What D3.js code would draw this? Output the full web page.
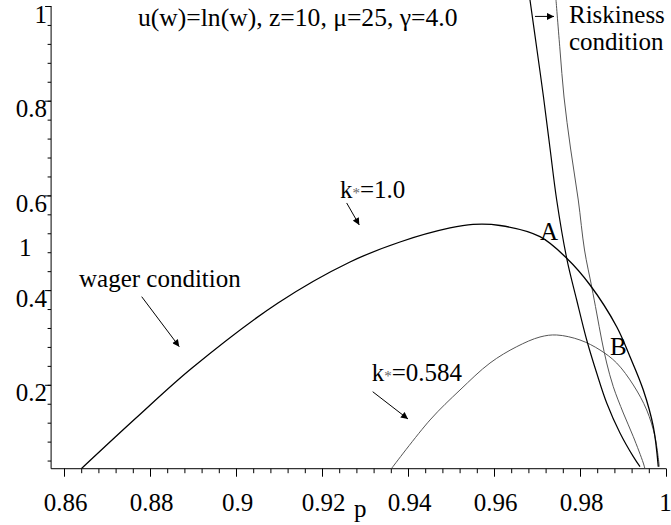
<!DOCTYPE html>
<html>
<head>
<meta charset="utf-8">
<script src="https://cdn.jsdelivr.net/npm/d3@7"></script>
<style>
  html, body { margin: 0; padding: 0; background: #fff; }
  svg { display: block; }
  svg text { font-family: "Liberation Serif", serif; fill: #000; }
</style>
</head>
<body>
<svg id="chart" width="671" height="525"></svg>
<script>
// Wager condition, k* = 1.0
const wager1P = [0.86402, 0.87674, 0.88977, 0.90977, 0.92651, 0.93814, 0.94977, 0.95512,
                 0.96140, 0.97070, 0.97691, 0.98233, 0.98853, 0.99163, 0.99472, 0.99705, 0.99821];
const wager1V = [0.0228, 0.1298, 0.2355, 0.3728, 0.4594, 0.5016, 0.5312, 0.5386,
                 0.5364, 0.5128, 0.4672, 0.4108, 0.3227, 0.2593, 0.1890, 0.1115, 0.0270];

// Wager condition, k* = 0.584
const wager2P = [0.93621, 0.94512, 0.95209, 0.95907, 0.96528, 0.97070, 0.97458, 0.98000,
                 0.98465, 0.98853, 0.99240, 0.99551, 0.99744, 0.99844];
const wager2V = [0.0237, 0.1257, 0.1890, 0.2460, 0.2805, 0.3010, 0.3052, 0.2946,
                 0.2735, 0.2460, 0.1996, 0.1468, 0.0904, 0.0271];

// Riskiness condition, k* = 1.0
const risk1P = [0.96837, 0.97000, 0.97151, 0.97302, 0.97458, 0.97691, 0.97923, 0.98156,
                0.98388, 0.98621, 0.98930, 0.99240, 0.99395];
const risk1V = [1.0127, 0.9071, 0.8078, 0.7001, 0.5903, 0.4672, 0.3791, 0.2946,
                0.2249, 0.1616, 0.0982, 0.0482, 0.0270];

// Riskiness condition, k* = 0.584
const risk2P = [0.97442, 0.97535, 0.97628, 0.97779, 0.97960, 0.98105, 0.98272, 0.98388,
                0.98505, 0.98621, 0.98774, 0.99007, 0.99240, 0.99472, 0.99510];
const risk2V = [1.0127, 0.9071, 0.8078, 0.7001, 0.5903, 0.4847, 0.4072, 0.3516,
                0.2946, 0.2460, 0.1960, 0.1404, 0.0904, 0.0348, 0.0228];

// Axis ticks
const xMajorTicks = [0.86, 0.88, 0.90, 0.92, 0.94, 0.96, 0.98, 1.00];
const xTickLabels = ["0.86", "0.88", "0.9", "0.92", "0.94", "0.96", "0.98", "1"];
const yMajorTicks = [0.2, 0.4, 0.6, 0.8, 1.0];
const yTickLabels = ["0.2", "0.4", "0.6", "0.8", "1"];
const yFloor = 0.0228;   // level where the p axis crosses

const FONT = '"Liberation Serif", serif';
const FS = 25;

const svg = d3.select("#chart");
const x = d3.scaleLinear().domain([0.86, 1.0]).range([64, 666]);
const y = d3.scaleLinear().domain([0, 1]).range([479.5, 6]);

const axisY = y(yFloor);
const axisX = x(0.857);

// arrowhead
svg.append("defs").append("marker")
  .attr("id", "head")
  .attr("viewBox", "0 0 10 10")
  .attr("refX", 10).attr("refY", 5)
  .attr("markerWidth", 9).attr("markerHeight", 7)
  .attr("markerUnits", "userSpaceOnUse")
  .attr("orient", "auto")
  .append("path").attr("d", "M0,0 L10,5 L0,10 Z").attr("fill", "#000");

// ---- axes ----
const xMinor = d3.range(0, 36).map(i => 0.86 + i * 0.004);
const yMinor = d3.range(1, 26).map(i => i * 0.04);

const gx = svg.append("g").attr("transform", `translate(0,${axisY})`);
gx.append("g").call(d3.axisBottom(x).tickValues(xMinor).tickSize(4.5).tickFormat(""));
gx.append("g").call(d3.axisBottom(x).tickValues(xMajorTicks).tickSize(8)
    .tickFormat((d, i) => xTickLabels[i]));
gx.selectAll(".domain").remove();
gx.selectAll("g").attr("font-family", null).attr("font-size", null);
gx.selectAll("line").attr("stroke", "#000").attr("stroke-width", 1);
gx.selectAll("text")
  .attr("y", 42).attr("dy", null).attr("dx", d => d === 1 ? -1 : 1)
  .style("font-size", FS + "px").style("font-family", FONT).attr("fill", "#000");
gx.append("line").attr("x1", axisX).attr("x2", x(1)).attr("y1", 0).attr("y2", 0)
  .attr("stroke", "#000").attr("stroke-width", 1);

const gy = svg.append("g").attr("transform", `translate(${axisX},0)`);
gy.append("g").call(d3.axisLeft(y).tickValues(yMinor).tickSize(3.5).tickFormat(""));
gy.append("g").call(d3.axisLeft(y).tickValues(yMajorTicks).tickSize(6)
    .tickFormat((d, i) => yTickLabels[i]));
gy.selectAll(".domain").remove();
gy.selectAll("g").attr("font-family", null).attr("font-size", null);
gy.selectAll("line").attr("stroke", "#000").attr("stroke-width", 1);
gy.selectAll("text")
  .attr("x", -4).attr("y", 16).attr("dy", null)
  .style("font-size", FS + "px").style("font-family", FONT).attr("fill", "#000");
gy.append("line").attr("x1", 0).attr("x2", 0).attr("y1", y(1)).attr("y2", axisY)
  .attr("stroke", "#000").attr("stroke-width", 1);

// axis name
svg.append("text").attr("x", x(0.92) + 32).attr("y", axisY + 48)
  .style("font-size", FS + "px").style("font-family", FONT).text("p");
// stray label beside the vertical axis
svg.append("text").attr("x", 19).attr("y", y(0.472))
  .style("font-size", FS + "px").style("font-family", FONT).text("1");

// ---- curves ----
const line = d3.line().x(d => x(d[0])).y(d => y(d[1])).curve(d3.curveCatmullRom.alpha(0.5));
const zip = (a, b) => a.map((v, i) => [v, b[i]]);

svg.append("clipPath").attr("id", "plot")
  .append("rect").attr("x", axisX).attr("y", 0).attr("width", x(1) - axisX + 2).attr("height", axisY);

const curves = svg.append("g").attr("clip-path", "url(#plot)").attr("fill", "none");
curves.append("path").attr("d", line(zip(risk2P, risk2V))).attr("stroke", "#555").attr("stroke-width", 1);
curves.append("path").attr("d", line(zip(wager2P, wager2V))).attr("stroke", "#555").attr("stroke-width", 1);
curves.append("path").attr("d", line(zip(risk1P, risk1V))).attr("stroke", "#000").attr("stroke-width", 1.2);
curves.append("path").attr("d", line(zip(wager1P, wager1V))).attr("stroke", "#000").attr("stroke-width", 1.3);

// ---- annotations ----
const label = (p, v, size = FS) => svg.append("text").attr("x", x(p)).attr("y", y(v))
  .style("font-size", size + "px").style("font-family", FONT);

label(0.87721, 0.9578, 25.6).text("u(w)=ln(w), z=10, \u03BC=25, \u03B3=4.0");
label(0.97744, 0.9641).text("Riskiness");
label(0.97744, 0.9071).text("condition");
label(0.86349, 0.4065).text("wager condition");
label(0.97070, 0.5058).text("A");
label(0.98698, 0.2629).text("B");

function kLabel(p, v, value) {
  const t = label(p, v);
  t.append("tspan").text("k");
  t.append("tspan").attr("fill", "#666").style("font-size", "15px").text("*");
  t.append("tspan").text("=" + value);
}
kLabel(0.92419, 0.5935, "1.0");
kLabel(0.93156, 0.2080, "0.584");

const arrow = (p1, v1, p2, v2) => svg.append("line")
  .attr("x1", x(p1)).attr("y1", y(v1)).attr("x2", x(p2)).attr("y2", y(v2))
  .attr("stroke", "#000").attr("stroke-width", 1).attr("marker-end", "url(#head)");

arrow(0.96953, 0.9780, 0.97395, 0.9780);
arrow(0.87807, 0.3861, 0.88681, 0.2805);
arrow(0.92574, 0.5840, 0.92867, 0.5375);
arrow(0.93179, 0.1854, 0.94000, 0.1278);
</script>
</body>
</html>
